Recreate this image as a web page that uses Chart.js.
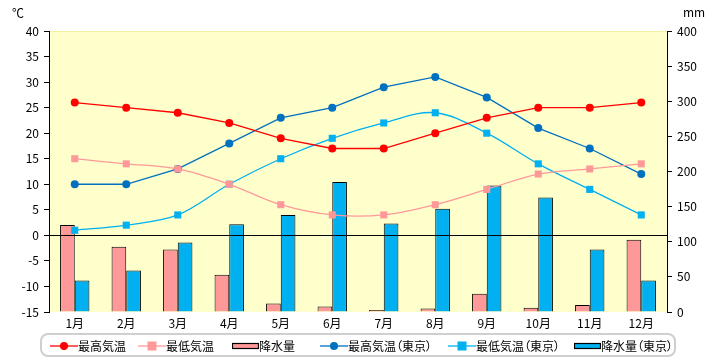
<!DOCTYPE html>
<html><head><meta charset="utf-8">
<script src="https://cdn.jsdelivr.net/npm/chart.js@4/dist/chart.umd.min.js"></script>
<style>
html,body{margin:0;padding:0;background:#fff;}
#wrap{position:relative;width:720px;height:360px;font-family:"Noto Sans CJK JP","Noto Sans",sans-serif;}
#c{position:absolute;left:0;top:0;}
#legend{position:absolute;left:40px;top:333px;width:636px;height:24px;border:2px solid #cfcfcf;border-radius:8px;box-sizing:border-box;}
.li{position:absolute;top:2px;height:18px;font-size:12px;line-height:18px;color:#000;white-space:nowrap;font-feature-settings:"palt";}
.li svg{position:absolute;left:0;top:2px;}
.li span{position:absolute;top:0;}
</style></head>
<body><div id="wrap"><canvas id="c" width="720" height="360"></canvas><div id="legend"></div></div>
<script>
const months = ["1月","2月","3月","4月","5月","6月","7月","8月","9月","10月","11月","12月"];
const maxTemp = [26,25,24,22,19,17,17,20,23,25,25,26];
const minTemp = [15,14,13,10,6,4,4,6,9,12,13,14];
const precip = [124,93,89,53,12,8,3,5,26,6,10,103];
const maxTempTokyo = [10,10,13,18,23,25,29,31,27,21,17,12];
const minTempTokyo = [1,2,4,10,15,19,22,24,20,14,9,4];
const precipTokyo = [45,59,99,125,138,185,126,147,180,163,89,45];
const tempTicks = [-15,-10,-5,0,5,10,15,20,25,30,35,40];
const mmTicks = [0,50,100,150,200,250,300,350,400];
const labels = ["最高気温","最低気温","降水量","最高気温（東京）","最低気温（東京）","降水量（東京）"];

const RED="#FF0000", PINK="#FF9999", DBLUE="#0070C0", LBLUE="#00B0F0";
const FONT = {family:'"Noto Sans CJK JP","Noto Sans",sans-serif', size:12};

const bgPlugin = {
  id:'bg',
  beforeDraw(chart){
    const {ctx, chartArea:a} = chart;
    ctx.save();
    ctx.fillStyle="#FFFFCC";
    ctx.fillRect(a.left,a.top,a.right-a.left,a.bottom-a.top);
    ctx.strokeStyle="#F5F0A0";ctx.lineWidth=1;
    ctx.beginPath();ctx.moveTo(a.left,a.top+0.5);ctx.lineTo(a.right,a.top+0.5);ctx.stroke();
    ctx.restore();
  },
  afterDatasetsDraw(chart){
    const {ctx, chartArea:a, scales} = chart;
    const y0 = Math.round(scales.y.getPixelForValue(0))+0.5;
    ctx.save();
    ctx.strokeStyle="#000";ctx.lineWidth=1;
    ctx.beginPath();ctx.moveTo(a.left,y0);ctx.lineTo(a.right,y0);ctx.stroke();
    ctx.restore();
  },
  afterDraw(chart){
    const {ctx} = chart;
    ctx.save();
    ctx.fillStyle="#000";
    ctx.font='12px "Noto Sans CJK JP","Noto Sans",sans-serif';
    ctx.textBaseline="middle";
    ctx.textAlign="left";
    ctx.fillText("℃",12,13);
    ctx.fillText("mm",683,12);
    ctx.restore();
  }
};

const lineDs = (label,data,color,style,tension)=>({
  type:'line',label,data,yAxisID:'y',borderColor:color,backgroundColor:color,
  borderWidth:1.3,pointStyle:style,pointRadius:style==='rect'?5:4,pointBorderWidth:0,
  pointHoverRadius:5,tension,order:1
});
const barDs = (label,data,color)=>({
  type:'bar',label,data,yAxisID:'y1',backgroundColor:color,borderColor:"#000",
  borderWidth:1,categoryPercentage:0.57,barPercentage:1.0,order:2
});

new Chart(document.getElementById('c'),{
  data:{
    labels:months,
    datasets:[
      lineDs(labels[0],maxTemp,RED,'circle',0),
      lineDs(labels[1],minTemp,PINK,'rect',0.35),
      barDs(labels[2],precip,PINK),
      lineDs(labels[3],maxTempTokyo,DBLUE,'circle',0),
      lineDs(labels[4],minTempTokyo,LBLUE,'rect',0.35),
      barDs(labels[5],precipTokyo,LBLUE)
    ]
  },
  options:{
    responsive:false,animation:false,
    layout:{padding:{top:31,left:0,right:0,bottom:0}},
    plugins:{legend:{display:false},tooltip:{enabled:false}},
    scales:{
      x:{
        grid:{display:false,drawTicks:false},border:{display:false},
        ticks:{font:FONT,color:"#000",padding:4,maxRotation:0,autoSkip:false},
        afterFit(s){s.height=48;}
      },
      y:{
        position:'left',min:-15,max:40,
        afterBuildTicks(s){s.ticks=tempTicks.map(v=>({value:v}));},
        ticks:{font:FONT,color:"#000",padding:5},
        grid:{drawOnChartArea:false,tickColor:"#000",tickLength:5},
        border:{display:true,color:"#000",width:1},
        afterFit(s){s.width=49;}
      },
      y1:{
        position:'right',min:0,max:400,
        afterBuildTicks(s){s.ticks=mmTicks.map(v=>({value:v}));},
        ticks:{font:FONT,color:"#000",padding:5},
        grid:{drawOnChartArea:false,tickColor:"#000",tickLength:5},
        border:{display:true,color:"#000",width:1},
        afterFit(s){s.width=53;}
      }
    }
  },
  plugins:[bgPlugin]
});

// HTML legend
const legend = document.getElementById('legend');
const items = [
  {x:8, w:28, kind:'line', color:RED, marker:'circle', label:labels[0]},
  {x:96, w:28, kind:'line', color:PINK, marker:'rect', label:labels[1]},
  {x:190, w:27, kind:'bar', color:PINK, label:labels[2]},
  {x:278, w:28, kind:'line', color:DBLUE, marker:'circle', label:labels[3]},
  {x:406, w:28, kind:'line', color:LBLUE, marker:'rect', label:labels[4]},
  {x:532, w:27, kind:'bar', color:LBLUE, label:labels[5]}
];
items.forEach(it=>{
  const d=document.createElement('div');d.className='li';d.style.left=it.x+'px';
  let svg;
  if(it.kind==='line'){
    const m = it.marker==='circle'
      ? `<circle cx="${it.w/2}" cy="7" r="4" fill="${it.color}"/>`
      : `<rect x="${it.w/2-4.5}" y="2.5" width="9" height="9" fill="${it.color}"/>`;
    svg=`<svg width="${it.w}" height="14"><line x1="0" y1="7" x2="${it.w}" y2="7" stroke="${it.color}" stroke-width="1.3"/>${m}</svg>`;
  } else {
    svg=`<svg width="${it.w}" height="14"><rect x="0.5" y="4.5" width="${it.w-1}" height="5" fill="${it.color}" stroke="#000" stroke-width="1.2"/></svg>`;
  }
  d.innerHTML=svg+`<span style="left:${it.w}px">${it.label}</span>`;
  legend.appendChild(d);
});
</script>
</body></html>
